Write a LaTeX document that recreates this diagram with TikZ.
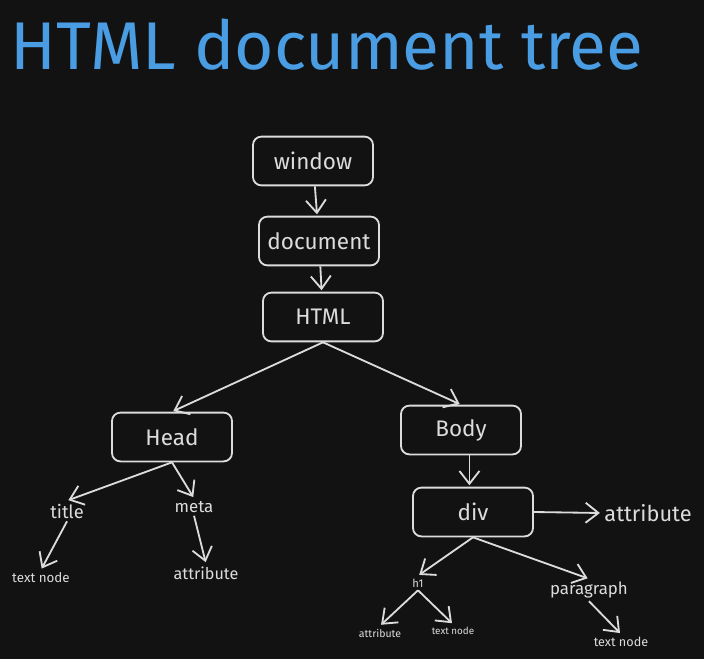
\documentclass[tikz,border=0pt]{standalone}
\usepackage{fontspec}
\setmainfont{Fira Sans}
\usepackage{tikz}
\usetikzlibrary{arrows.meta,positioning}
\definecolor{bgdark}{HTML}{121212}
\definecolor{inkgrey}{HTML}{DCDCDC}
\definecolor{titleblue}{HTML}{4A9DE2}
\tikzset{
  bx/.style={rounded corners=6pt, draw=inkgrey, line width=1.3pt, text=inkgrey,
             minimum width=3cm, minimum height=1.22cm, inner sep=2pt,
             font=\fontsize{16}{18}\selectfont},
  lf/.style={text=inkgrey, inner sep=2pt, font=\fontsize{#1}{#1}\selectfont},
  lf/.default=12,
  flow/.style={-{Straight Barb[length=3.2mm,width=5mm]}, line width=1.3pt,
               draw=inkgrey, shorten >=1pt},
}
\begin{document}
\begin{tikzpicture}[x=0.025cm, y=-0.025cm]
% ------------------------- canvas ---------------------------------------
\fill[bgdark] (0,0) rectangle (704,659);
\useasboundingbox (0,0) rectangle (704,659);

\node[text=titleblue, font=\fontsize{48}{52}\selectfont, anchor=west] (ttl)
   at (6,45) {HTML document tree};

% ------------------------- spine ----------------------------------------
\node[bx] at (313,161) (win)  {window};
\node[bx] at (319,241) (doc)  {document};
\node[bx] at (323,317) (html) {HTML};
\draw[flow] (win)  -- (doc);
\draw[flow] (doc)  -- (html);

% ------------------------- head branch ----------------------------------
\node[bx] at (172,437) (head) {Head};
\node[lf=13] at (67,511)  (title) {title};
\node[lf=12] at (194,507) (meta)  {meta};
\node[lf=9.5] at (41,578) (txtA)  {text node};
\node[lf=11.5] at (206,573) (attA) {attribute};
\draw[flow] (html.south) -- (head.north);
\draw[flow] (head.south) -- (title.north);
\draw[flow] (head.south) -- (meta.north);
\draw[flow] (title.south) -- (txtA.north);
\draw[flow] (meta.south) -- (attA.north);

% ------------------------- body branch ----------------------------------
\node[bx] at (461,430) (body) {Body};
\node[bx] at (473,512) (div)  {div};
\node[lf=15.5] at (648,513) (attB) {attribute};
\node[lf=8] at (418,583)  (hone) {h1};
\node[lf=12] at (589,590) (para) {paragraph};
\node[lf=7.5] at (380,633) (attC) {attribute};
\node[lf=7] at (453,631)  (txtB) {text node};
\node[lf=9] at (621,642)  (txtC) {text node};
\draw[flow] (html.south) -- (body.north);
\draw[flow] ([xshift=6pt]body.south) -- ([xshift=6pt]body.south |- div.north);
\draw[flow] (div.east) -- (attB.west);
\draw[flow] (div.south) -- (hone.north);
\draw[flow] (div.south) -- (para.north);
\draw[flow] (hone.south) -- (attC.north);
\draw[flow] (hone.south) -- (txtB.north);
\draw[flow] (para.south) -- (txtC.north);
\end{tikzpicture}
\end{document}
